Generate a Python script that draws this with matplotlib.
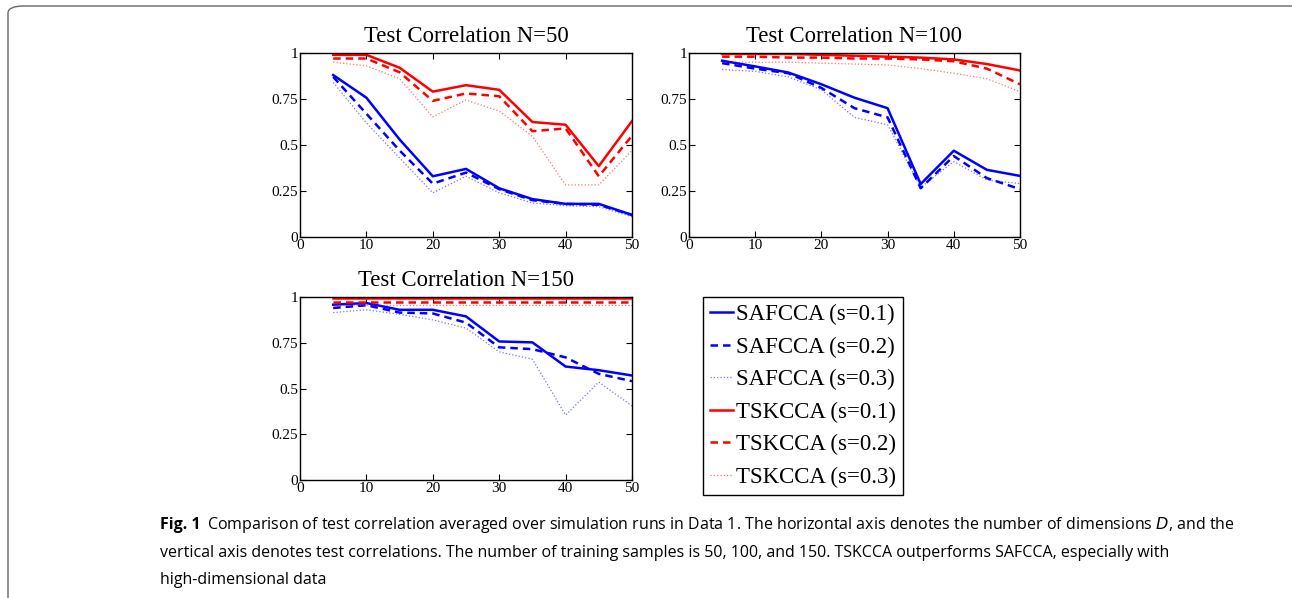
import matplotlib.pyplot as plt
from matplotlib.patches import FancyBboxPatch
from matplotlib.lines import Line2D

# ── Data ─────────────────────────────────────────────────────────────────────
dims = [5, 10, 15, 20, 25, 30, 35, 40, 45, 50]

# N = 50
saf50_1 = [0.88, 0.757, 0.53, 0.33, 0.37, 0.265, 0.206, 0.18, 0.18, 0.12]
saf50_2 = [0.87, 0.67, 0.47, 0.29, 0.35, 0.26, 0.20, 0.18, 0.175, 0.12]
saf50_3 = [0.84, 0.62, 0.43, 0.24, 0.33, 0.24, 0.185, 0.17, 0.165, 0.11]
tsk50_1 = [0.99, 0.99, 0.92, 0.79, 0.825, 0.80, 0.625, 0.61, 0.385, 0.63]
tsk50_2 = [0.97, 0.97, 0.895, 0.74, 0.78, 0.765, 0.575, 0.59, 0.33, 0.55]
tsk50_3 = [0.95, 0.93, 0.86, 0.653, 0.745, 0.684, 0.547, 0.283, 0.283, 0.47]

# N = 100
saf100_1 = [0.958, 0.927, 0.894, 0.83, 0.757, 0.70, 0.288, 0.469, 0.365, 0.332]
saf100_2 = [0.945, 0.915, 0.89, 0.81, 0.70, 0.65, 0.265, 0.44, 0.32, 0.26]
saf100_3 = [0.91, 0.90, 0.87, 0.80, 0.65, 0.61, 0.27, 0.41, 0.31, 0.29]
tsk100_1 = [0.995, 0.995, 0.995, 0.99, 0.985, 0.98, 0.975, 0.965, 0.94, 0.905]
tsk100_2 = [0.98, 0.98, 0.975, 0.975, 0.97, 0.97, 0.965, 0.955, 0.915, 0.83]
tsk100_3 = [0.95, 0.95, 0.95, 0.945, 0.94, 0.935, 0.915, 0.89, 0.86, 0.79]

# N = 150
saf150_1 = [0.958, 0.967, 0.93, 0.93, 0.894, 0.757, 0.752, 0.62, 0.60, 0.571]
saf150_2 = [0.94, 0.955, 0.915, 0.91, 0.86, 0.725, 0.715, 0.67, 0.58, 0.54]
saf150_3 = [0.915, 0.93, 0.905, 0.875, 0.83, 0.70, 0.66, 0.355, 0.535, 0.405]
tsk150_1 = [0.995, 0.995, 0.995, 0.995, 0.995, 0.995, 0.995, 0.995, 0.995, 0.995]
tsk150_2 = [0.975, 0.975, 0.975, 0.975, 0.975, 0.975, 0.975, 0.975, 0.975, 0.975]
tsk150_3 = [0.955, 0.955, 0.955, 0.955, 0.955, 0.955, 0.955, 0.955, 0.955, 0.955]

titles = ["Test Correlation N=50", "Test Correlation N=100", "Test Correlation N=150"]
labels = ["SAFCCA (s=0.1)", "SAFCCA (s=0.2)", "SAFCCA (s=0.3)",
          "TSKCCA (s=0.1)", "TSKCCA (s=0.2)", "TSKCCA (s=0.3)"]
yticks = [0, 0.25, 0.5, 0.75, 1]
ytick_labels = ["0", "0.25", "0.5", "0.75", "1"]
xticks = [0, 10, 20, 30, 40, 50]

panels = [
    [saf50_1, saf50_2, saf50_3, tsk50_1, tsk50_2, tsk50_3],
    [saf100_1, saf100_2, saf100_3, tsk100_1, tsk100_2, tsk100_3],
    [saf150_1, saf150_2, saf150_3, tsk150_1, tsk150_2, tsk150_3],
]

# line styles: (color, linestyle, linewidth, alpha)
styles = [
    ('#0000FF', '-', 1.8, 1.0),
    ('#0000FF', (0, (3, 2)), 1.8, 1.0),
    ('#0000FF', ':', 0.9, 0.55),
    ('#FF0000', '-', 1.8, 1.0),
    ('#FF0000', (0, (3, 2)), 1.8, 1.0),
    ('#FF0000', ':', 0.9, 0.55),
]

W, H = 1292, 598
fig = plt.figure(figsize=(W / 100, H / 100), dpi=100)
serif = ['Liberation Serif', 'DejaVu Serif']

# outer frame with rounded top-left corner
frame = FancyBboxPatch((8 / W, -0.05), 1.2, 1 - 6 / H + 0.05,
                       boxstyle="round,pad=0,rounding_size=0.012",
                       transform=fig.transFigure, fill=False,
                       edgecolor='#666666', linewidth=1.0, clip_on=False)
fig.patches.append(frame)


def px_axes(left, top, right, bottom):
    return fig.add_axes([left / W, 1 - bottom / H, (right - left) / W, (bottom - top) / H])


axes = [px_axes(300, 53, 632, 237), px_axes(689, 53, 1020, 237), px_axes(300, 297, 632, 480)]

for ax, series, title in zip(axes, panels, titles):
    for ys, (c, ls, lw, a) in zip(series, styles):
        ax.plot(dims, ys, color=c, linestyle=ls, linewidth=lw, alpha=a)
    ax.set_xlim(0, 50)
    ax.set_ylim(0, 1)
    ax.set_xticks(xticks)
    ax.set_xticklabels([str(t) for t in xticks], family=serif, fontsize=11)
    ax.set_yticks(yticks)
    ax.set_yticklabels(ytick_labels, family=serif, fontsize=11)
    ax.tick_params(direction='in', top=True, right=True, length=4, width=0.8, pad=1.5)
    for sp in ax.spines.values():
        sp.set_linewidth(1.0)
    ax.set_title(title, family=serif, fontsize=16.4, pad=8)

handles = [Line2D([0], [0], color=c, linestyle=ls, linewidth=lw, alpha=a)
           for (c, ls, lw, a) in styles]
leg = fig.legend(handles, labels, loc='upper left',
                 bbox_to_anchor=(703 / W, 1 - 297 / H),
                 prop={'family': serif, 'size': 16.5},
                 handlelength=1.0, handletextpad=0.15, labelspacing=0.5,
                 borderpad=0.3, borderaxespad=0, fancybox=False,
                 edgecolor='black', framealpha=1)
leg.get_frame().set_linewidth(1.0)

# caption
cap_font = ['Open Sans', 'DejaVu Sans']
fs = 11.5
fig.text(160 / W, 1 - 525 / H, "Fig. 1", family=cap_font, fontsize=fs,
         fontweight='bold', va='center', ha='left')
fig.text(207 / W, 1 - 525 / H,
         "Comparison of test correlation averaged over simulation runs in Data 1. "
         "The horizontal axis denotes the number of dimensions $\\mathit{D}$, and the",
         family=cap_font, fontsize=fs, va='center', ha='left')
fig.text(160 / W, 1 - 553 / H,
         "vertical axis denotes test correlations. The number of training samples is 50, 100, "
         "and 150. TSKCCA outperforms SAFCCA, especially with",
         family=cap_font, fontsize=fs, va='center', ha='left')
fig.text(160 / W, 1 - 580 / H, "high-dimensional data",
         family=cap_font, fontsize=fs, va='center', ha='left')

fig.savefig("out.png", dpi=100)
